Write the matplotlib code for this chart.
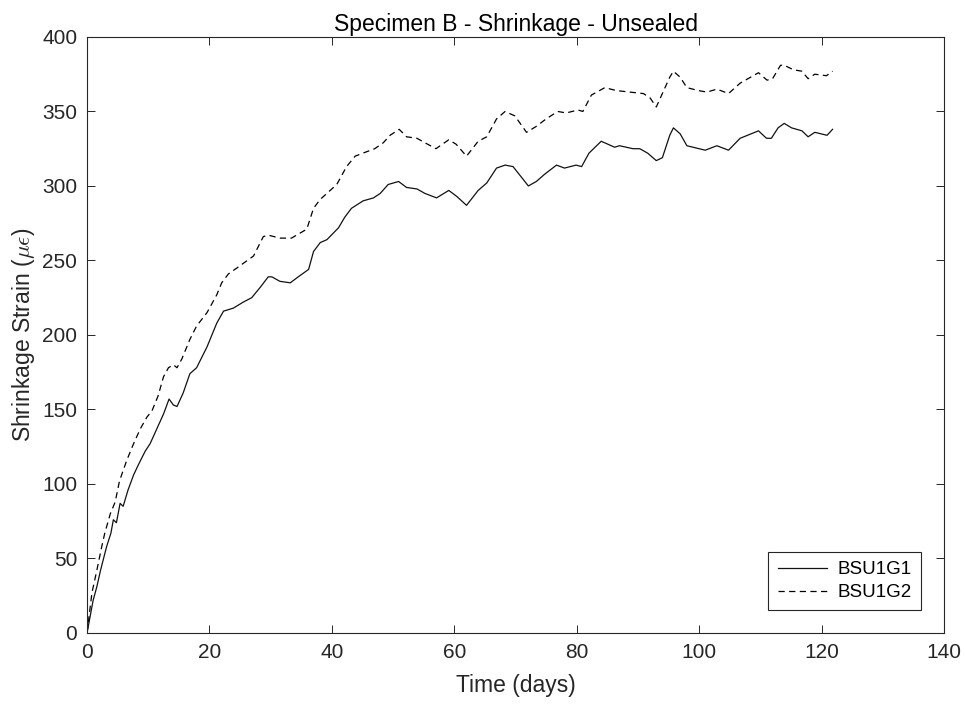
import matplotlib
matplotlib.use("Agg")
import matplotlib.pyplot as plt
import numpy as np

plt.rcParams["font.family"] = ["Liberation Sans", "DejaVu Sans"]
plt.rcParams["mathtext.fontset"] = "cm"

# ── BSU1G1 (solid) ─────────────────────────────────────────────────────────
g1_days = [0, 1, 1.6, 2.2, 3.2, 3.9, 4.3, 4.8, 5.4, 5.9, 6.7, 7.6, 8.4, 9.5,
           10.3, 11.4, 12.5, 13.4, 14.1, 14.7, 15.7, 16.8, 17.9, 19.6, 21.2,
           22.3, 23.9, 25.5, 26.9, 28.3, 29.6, 30.2, 31.5, 33.2, 34.5, 36.2,
           37, 38.1, 39.2, 41.1, 42.1, 43.2, 45.1, 46.8, 47.9, 49.2, 50.9,
           52.2, 53.9, 55.2, 57.1, 59.1, 60.4, 62, 63.9, 65.3, 66.9, 68.3,
           69.6, 72.1, 73.4, 74.8, 76.7, 78, 79.9, 80.8, 82, 84, 86.2, 87,
           89.2, 90.3, 91.6, 93, 94, 95.2, 95.8, 96.9, 98, 101, 102.9, 104.8,
           106.7, 109.7, 111, 111.8, 112.9, 113.9, 115.1, 116.8, 117.8, 118.9,
           120.9, 121.8]
g1_strain = [0, 22, 31, 42, 58, 67, 76, 74, 87, 85, 96, 106, 113, 122, 127,
             137, 147, 157, 153, 152, 161, 174, 178, 192, 208, 216, 218, 222,
             225, 232, 239, 239, 236, 235, 239, 244, 256, 262, 264, 272, 279,
             285, 290, 292, 295, 301, 303, 299, 298, 295, 292, 297, 293, 287,
             297, 302, 312, 314, 313, 300, 303, 308, 314, 312, 314, 313, 322,
             330, 326, 327, 325, 325, 322, 317, 319, 334, 339, 335, 327, 324,
             327, 324, 332, 337, 332, 332, 339, 342, 339, 337, 333, 336, 334,
             338]

# ── BSU1G2 (dashed) ────────────────────────────────────────────────────────
g2_days = [0, 0.8, 1.6, 2.4, 2.9, 3.8, 4.6, 5.3, 6.5, 7.6, 8.7, 9.8, 10.6,
           11.6, 12.5, 13.3, 14.1, 14.7, 15.5, 16.8, 17.9, 19.6, 21.2, 22,
           23.1, 24.5, 27.2, 28.8, 29.6, 31.5, 33.4, 35.9, 37, 38.1, 40.8,
           42.4, 43.8, 45.7, 47, 48.4, 49.5, 51, 52.2, 53.9, 55.2, 57, 59.1,
           60.3, 62, 63.9, 65.3, 66.9, 68.3, 69.9, 71.8, 73.4, 75, 76.9, 78.3,
           80.2, 81, 82.4, 84.6, 86.5, 88.7, 90.9, 92, 93, 95.2, 95.8, 96.9,
           98, 99.9, 101.3, 102.9, 104.8, 106.7, 109.7, 111.1, 112, 113.3,
           113.9, 115.4, 116.8, 117.8, 118.9, 120.8, 121.8]
g2_strain = [0, 27, 42, 58, 67, 80, 88, 102, 116, 127, 137, 145, 149, 159,
             172, 178, 180, 178, 184, 197, 206, 215, 227, 235, 241, 245, 253,
             266, 267, 265, 265, 271, 285, 291, 301, 313, 320, 323, 325, 329,
             334, 338, 333, 332, 329, 325, 331, 328, 320, 330, 333, 345, 350,
             347, 336, 340, 345, 350, 349, 351, 350, 361, 366, 364, 363, 362,
             359, 353, 373, 377, 373, 366, 364, 363, 365, 362, 369, 376, 371,
             372, 381, 381, 378, 377, 372, 375, 374, 377]

AX_COL = "#262626"

fig = plt.figure(figsize=(9.65, 7.04), dpi=100)
ax = fig.add_axes([0.0902, 0.1009, 0.888, 0.8466])

ax.plot(g1_days, g1_strain, "-", color="#111111", linewidth=0.9, label="BSU1G1")
ax.plot(g2_days, g2_strain, "--", color="black", linewidth=0.9,
        dashes=(5, 3.5), label="BSU1G2")

ax.set_xlim(0, 140)
ax.set_ylim(0, 400)
ax.set_xticks(np.arange(0, 141, 20))
ax.set_yticks(np.arange(0, 401, 50))

ax.tick_params(direction="in", length=5.5, width=0.7, colors=AX_COL,
               labelsize=15, top=True, right=True, pad=7)
for spine in ax.spines.values():
    spine.set_color(AX_COL)
    spine.set_linewidth(0.8)

ax.set_xlabel("Time (days)", fontsize=16.5, color=AX_COL, labelpad=9)
ax.set_ylabel(r"Shrinkage Strain ($\mu\epsilon$)", fontsize=16.5, color=AX_COL,
              labelpad=4)
ax.set_title("Specimen B - Shrinkage - Unsealed", fontsize=16.5, color="black",
             pad=4)

leg = ax.legend(loc="lower right", fontsize=13.5, fancybox=False, framealpha=1,
                edgecolor=AX_COL, handlelength=2.6, borderaxespad=1.2,
                borderpad=0.5, labelspacing=0.3, handletextpad=0.6)
leg.get_frame().set_linewidth(0.8)

fig.savefig("out.png", dpi=100, facecolor="white")
